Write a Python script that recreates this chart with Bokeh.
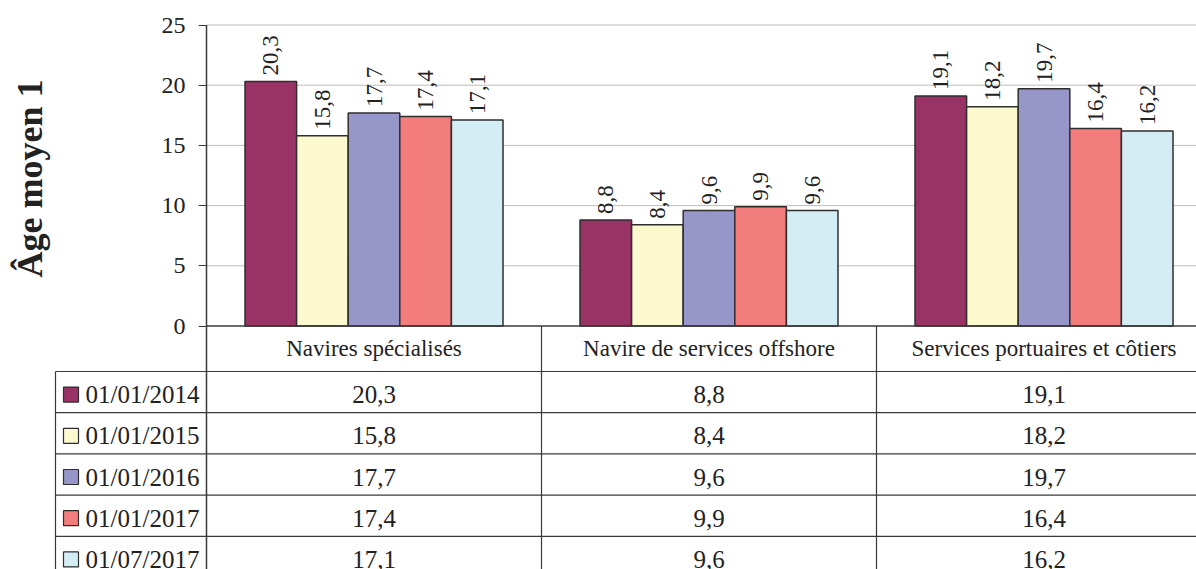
import math
from bokeh.plotting import figure
from bokeh.models import Range1d, LinearAxis, FixedTicker, Label, ColumnDataSource
from bokeh.core.properties import value
from bokeh.embed import file_html
from bokeh.resources import INLINE

# ---------------- data ----------------
categories = ["Navires spécialisés", "Navire de services offshore", "Services portuaires et côtiers"]
series_names = ["01/01/2014", "01/01/2015", "01/01/2016", "01/01/2017", "01/07/2017"]
s_2014_01 = [20.3, 8.8, 19.1]
s_2015_01 = [15.8, 8.4, 18.2]
s_2016_01 = [17.7, 9.6, 19.7]
s_2017_01 = [17.4, 9.9, 16.4]
s_2017_07 = [17.1, 9.6, 16.2]
series_values = [s_2014_01, s_2015_01, s_2016_01, s_2017_01, s_2017_07]
colors = ["#993366", "#FBF9CD", "#9696C8", "#F37D7D", "#D4ECF3"]
y_ticks = [0, 5, 10, 15, 20, 25]
y_title = "Âge moyen 1"

# ---------------- geometry ----------------
FONT = "Liberation Serif"
W, H = 1196, 569
X0 = 206.0        # canvas x of plot-area left edge
COL = 335.0       # pixels per category column
Y0 = 325.5        # canvas y of value 0
UNIT = 12.04      # pixels per year
HDR = 45.5 / UNIT  # category-label row height (data units)
ROW = 41.2 / UNIT  # table row height (data units)
BAR = 51.6 / COL   # bar width (data units)
ROW_SHIFT = 2.5 / UNIT  # row contents sit slightly below row centre


def xd(px):
    """canvas px -> data x"""
    return (px - X0) / COL


xr = Range1d(xd(0), xd(W))
yr = Range1d(-(H - Y0) / UNIT, Y0 / UNIT)

p = figure(width=W, height=H, x_range=xr, y_range=yr, output_backend="svg",
           toolbar_location=None, x_axis_location=None, y_axis_location=None,
           min_border=0, outline_line_color=None, background_fill_color="white")
p.xgrid.visible = False
p.ygrid.visible = False

LINE = "#3a3a3a"
TXT = "#222222"

# grid lines
gy = [t for t in y_ticks if t > 0]
p.segment(x0=[0] * len(gy), x1=[xr.end] * len(gy), y0=gy, y1=gy,
          line_color="#bdbdbd", line_width=1)

# bars
n = len(series_names)
for k, (name, vals, col) in enumerate(zip(series_names, series_values, colors)):
    xs = [i + 0.5 + (k - (n - 1) / 2) * BAR for i in range(len(categories))]
    src = ColumnDataSource(dict(x=xs, top=vals,
                                lab=[f"{v:.1f}".replace(".", ",") for v in vals]))
    p.vbar(x="x", top="top", bottom=0, width=BAR, source=src,
           fill_color=col, line_color="#2e2e2e", line_width=1.5)
    p.text(x="x", y="top", text="lab", source=src, angle=math.pi / 2,
           y_offset=-6, text_align="left", text_baseline="middle",
           text_font=value(FONT), text_font_size="23px", text_color=TXT)

# x axis line (value 0)
p.segment(x0=[0], x1=[xr.end], y0=[0], y1=[0], line_color=LINE, line_width=1.5)

# y axis (ticks + labels)
yaxis = LinearAxis(fixed_location=0, ticker=FixedTicker(ticks=y_ticks), bounds=(0, 25),
                   axis_line_color=None, major_tick_line_color=LINE, major_tick_line_width=1.2,
                   major_tick_out=8, major_tick_in=0, minor_tick_line_color=None,
                   major_label_text_font=FONT, major_label_text_font_size="24px",
                   major_label_text_color=TXT, major_label_standoff=13)
p.add_layout(yaxis, "left")

# ---------------- data table ----------------
leg_left = xd(55)
bottom = yr.start
# vertical lines
p.segment(x0=[0], x1=[0], y0=[25], y1=[bottom], line_color=LINE, line_width=1.5)
p.segment(x0=[leg_left], x1=[leg_left], y0=[-HDR], y1=[bottom], line_color=LINE, line_width=1.2)
inner = list(range(1, len(categories)))
p.segment(x0=inner, x1=inner, y0=[0] * len(inner), y1=[bottom] * len(inner),
          line_color=LINE, line_width=1.2)
# horizontal lines
hy = [-HDR - r * ROW for r in range(len(series_names))]
p.segment(x0=[leg_left] * len(hy), x1=[xr.end] * len(hy), y0=hy, y1=hy,
          line_color=LINE, line_width=1.2)

# category header labels
p.text(x=[i + 0.5 for i in range(len(categories))], y=[-HDR / 2] * len(categories),
       text=categories, text_align="center", text_baseline="middle",
       text_font=value(FONT), text_font_size="23px", text_color=TXT)

# rows
for k, (name, vals, col) in enumerate(zip(series_names, series_values, colors)):
    yc = -HDR - (k + 0.5) * ROW - ROW_SHIFT
    p.scatter(x=[xd(70.5)], y=[yc], marker="square", size=15,
              fill_color=col, line_color="#2e2e2e", line_width=1.2)
    p.text(x=[xd(85)], y=[yc], text=[name], text_align="left", text_baseline="middle",
           text_font=value(FONT), text_font_size="25px", text_color=TXT)
    p.text(x=[i + 0.5 for i in range(len(categories))], y=[yc] * len(categories),
           text=[f"{v:.1f}".replace(".", ",") for v in vals],
           text_align="center", text_baseline="middle",
           text_font=value(FONT), text_font_size="25px", text_color=TXT)

# axis title
p.add_layout(Label(x=29, y=H - 178, x_units="screen", y_units="screen", text=y_title,
                   angle=math.pi / 2, text_align="center", text_baseline="middle",
                   text_font=FONT, text_font_size="36px", text_font_style="bold",
                   text_color=TXT))

open("out.html", "w").write(file_html(p, INLINE))
